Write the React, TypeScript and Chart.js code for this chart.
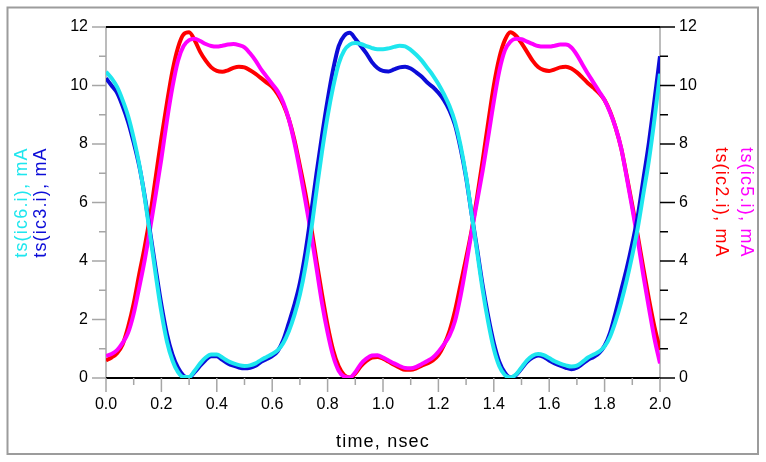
import React, { useEffect, useRef } from 'react';
import { Chart, registerables } from 'chart.js';

Chart.register(...registerables);

// Sample times, nsec
const TIME_NS = [
  0.0, 0.02, 0.04, 0.06, 0.08, 0.1, 0.12, 0.14, 0.16, 0.18,
  0.2, 0.22, 0.24, 0.26, 0.28, 0.3, 0.32, 0.34, 0.36, 0.38,
  0.4, 0.42, 0.44, 0.46, 0.48, 0.5, 0.52, 0.54, 0.56, 0.58,
  0.6, 0.62, 0.64, 0.66, 0.68, 0.7, 0.72, 0.74, 0.76, 0.78,
  0.8, 0.82, 0.84, 0.86, 0.88, 0.9, 0.92, 0.94, 0.96, 0.98,
  1.0, 1.02, 1.04, 1.06, 1.08, 1.1, 1.12, 1.14, 1.16, 1.18,
  1.2, 1.22, 1.24, 1.26, 1.28, 1.3, 1.32, 1.34, 1.36, 1.38,
  1.4, 1.42, 1.44, 1.46, 1.48, 1.5, 1.52, 1.54, 1.56, 1.58,
  1.6, 1.62, 1.64, 1.66, 1.68, 1.7, 1.72, 1.74, 1.76, 1.78,
  1.8, 1.82, 1.84, 1.86, 1.88, 1.9, 1.92, 1.94, 1.96, 1.98, 2.0,
];

// ts(ic3.i), mA
const IC3_MA = [
  10.25, 10.0, 9.75, 9.3, 8.75, 8.05, 7.25, 6.2, 4.95, 3.7,
  2.5, 1.5, 0.8, 0.35, 0.08, 0.02, 0.2, 0.42, 0.62, 0.74,
  0.74, 0.62, 0.5, 0.42, 0.36, 0.33, 0.35, 0.42, 0.55, 0.65,
  0.75, 0.92, 1.3, 1.88, 2.5, 3.25, 4.3, 5.6, 7.0, 8.3,
  9.5, 10.55, 11.35, 11.7, 11.8, 11.6, 11.35, 11.1, 10.8, 10.6,
  10.5, 10.48, 10.55, 10.62, 10.64, 10.58, 10.45, 10.3, 10.1, 9.95,
  9.75, 9.5, 9.15, 8.65, 7.85, 6.85, 5.6, 4.4, 3.15, 2.1,
  1.2, 0.55, 0.18, 0.02, 0.1, 0.32, 0.55, 0.7, 0.77, 0.72,
  0.6, 0.5, 0.42, 0.35, 0.3, 0.35, 0.48, 0.62, 0.72, 0.85,
  1.1, 1.55, 2.25, 3.0, 3.75, 4.6, 5.55, 6.8, 8.05, 9.5, 11.0,
];

// ts(ic6.i), mA
const IC6_MA = [
  10.47, 10.25, 9.95, 9.5, 8.95, 8.2, 7.3, 6.15, 4.85, 3.5,
  2.25, 1.25, 0.6, 0.2, 0.03, 0.03, 0.25, 0.5, 0.7, 0.8,
  0.8, 0.7, 0.58, 0.5, 0.44, 0.41, 0.43, 0.5, 0.62, 0.72,
  0.82, 0.95, 1.2, 1.6, 2.15, 2.85, 3.8, 5.0, 6.4, 7.75,
  8.95, 9.95, 10.75, 11.2, 11.4, 11.45, 11.42, 11.35, 11.28, 11.24,
  11.24, 11.27, 11.32, 11.36, 11.34, 11.22, 11.05, 10.85, 10.6, 10.35,
  10.05, 9.7, 9.3, 8.75, 7.95, 6.9, 5.6, 4.3, 3.0, 1.9,
  1.0, 0.4, 0.1, 0.02, 0.12, 0.36, 0.6, 0.76, 0.82, 0.78,
  0.68, 0.57, 0.49, 0.43, 0.39, 0.42, 0.55, 0.7, 0.8, 0.9,
  1.08, 1.42, 1.95, 2.6, 3.35, 4.2, 5.15, 6.3, 7.45, 8.85, 10.4,
];

// ts(ic2.i), mA
const IC2_MA = [
  0.6, 0.7, 0.85, 1.15, 1.75, 2.55, 3.55, 4.5, 5.6, 6.9,
  8.2, 9.4, 10.5, 11.3, 11.75, 11.82, 11.55, 11.15, 10.85, 10.62,
  10.5, 10.47, 10.52, 10.6, 10.64, 10.62, 10.52, 10.4, 10.25, 10.1,
  9.95, 9.7, 9.35, 8.85, 8.15, 7.25, 6.3, 5.2, 4.0, 2.85,
  1.8, 0.95, 0.4, 0.1, 0.02, 0.15, 0.4, 0.58, 0.7, 0.72,
  0.66, 0.56, 0.45, 0.35, 0.28, 0.28, 0.33, 0.42, 0.5, 0.6,
  0.78, 1.12, 1.6, 2.3, 3.2, 4.1, 5.05, 6.2, 7.45, 8.75,
  10.0, 10.95, 11.55, 11.82, 11.7, 11.45, 11.15, 10.85, 10.63, 10.53,
  10.5, 10.55, 10.62, 10.64, 10.58, 10.45, 10.27, 10.08, 9.92, 9.74,
  9.5, 9.1, 8.55, 7.85, 6.9, 5.9, 4.85, 3.75, 2.7, 1.75, 0.96,
];

// ts(ic5.i), mA
const IC5_MA = [
  0.75, 0.82, 0.95, 1.2, 1.55, 2.2, 3.1, 4.05, 5.15, 6.3,
  7.5, 8.8, 9.95, 10.85, 11.35, 11.55, 11.6, 11.52, 11.42, 11.35,
  11.33, 11.36, 11.4, 11.42, 11.38, 11.3, 11.1, 10.85, 10.55, 10.3,
  10.05, 9.8, 9.42, 8.85, 8.05, 7.1, 6.05, 4.95, 3.75, 2.55,
  1.55, 0.75, 0.25, 0.05, 0.02, 0.2, 0.48, 0.66, 0.77, 0.78,
  0.7, 0.6, 0.5, 0.41, 0.34, 0.33, 0.38, 0.48, 0.58, 0.7,
  0.9, 1.15, 1.45, 1.95, 2.8, 3.85, 5.0, 6.05, 7.1, 8.25,
  9.45, 10.5, 11.2, 11.5, 11.6, 11.58, 11.5, 11.42, 11.35, 11.33,
  11.33, 11.36, 11.4, 11.4, 11.3, 11.05, 10.72, 10.4, 10.1, 9.8,
  9.5, 9.08, 8.55, 7.85, 6.85, 5.8, 4.7, 3.5, 2.4, 1.35, 0.5,
];

// Axis ranges and tick spacing
const X_MIN = 0;
const X_MAX = 2;
const X_MAJOR_STEP = 0.2;
const X_MINOR_STEP = 0.1;
const Y_MIN = 0;
const Y_MAX = 12;
const Y_MAJOR_STEP = 2;
const Y_MINOR_STEP = 1;

const X_TITLE = 'time, nsec';

const CYAN = '#1ee6ee';
const BLUE = '#0c0cd8';
const RED = '#ff0000';
const MAGENTA = '#ff00ff';

const LEFT_TITLES = [
  { text: 'ts(ic6.i), mA', color: CYAN, x: 22 },
  { text: 'ts(ic3.i), mA', color: BLUE, x: 41 },
];
const RIGHT_TITLES = [
  { text: 'ts(ic2.i), mA', color: RED, x: 721 },
  { text: 'ts(ic5.i), mA', color: MAGENTA, x: 746 },
];

const FONT = "'Liberation Sans', Arial, Helvetica, sans-serif";
const AXIS_GRAY = '#a6a6a6';

const points = (ys: number[]) => TIME_NS.map((t, i) => ({ x: t, y: ys[i] }));

const decorPlugin = {
  id: 'decor',
  beforeDatasetsDraw(chart: any) {
    const { ctx, chartArea: a } = chart;
    ctx.save();
    ctx.lineCap = 'butt';
    // side axis lines
    ctx.strokeStyle = AXIS_GRAY;
    ctx.lineWidth = 1.5;
    ctx.beginPath();
    ctx.moveTo(a.left, a.top);
    ctx.lineTo(a.left, a.bottom);
    ctx.moveTo(a.right, a.top);
    ctx.lineTo(a.right, a.bottom);
    ctx.stroke();
    // top and bottom boundaries
    ctx.strokeStyle = '#000';
    ctx.lineWidth = 2;
    ctx.beginPath();
    ctx.moveTo(a.left, a.top);
    ctx.lineTo(a.right, a.top);
    ctx.moveTo(a.left, a.bottom);
    ctx.lineTo(a.right, a.bottom);
    ctx.stroke();
    ctx.restore();
  },
  afterDraw(chart: any) {
    const { ctx, chartArea: a, scales } = chart;
    const xs = scales.x;
    const yl = scales.y;
    const yr = scales.y2;
    ctx.save();

    // x ticks (downward, gray)
    ctx.strokeStyle = AXIS_GRAY;
    ctx.lineWidth = 1.5;
    ctx.beginPath();
    const nx = Math.round((X_MAX - X_MIN) / X_MINOR_STEP);
    const xRatio = Math.round(X_MAJOR_STEP / X_MINOR_STEP);
    for (let i = 0; i <= nx; i++) {
      const px = xs.getPixelForValue(X_MIN + i * X_MINOR_STEP);
      const major = i % xRatio === 0;
      ctx.moveTo(px, a.bottom);
      ctx.lineTo(px, a.bottom + (major ? 14 : 7));
    }
    ctx.stroke();

    // left ticks (gray)
    const ny = Math.round((Y_MAX - Y_MIN) / Y_MINOR_STEP);
    const yRatio = Math.round(Y_MAJOR_STEP / Y_MINOR_STEP);
    ctx.beginPath();
    for (let i = 0; i <= ny; i++) {
      const py = yl.getPixelForValue(Y_MIN + i * Y_MINOR_STEP);
      const major = i % yRatio === 0;
      ctx.moveTo(a.left, py);
      ctx.lineTo(a.left - (major ? 14 : 7), py);
    }
    ctx.stroke();

    // right ticks (black)
    ctx.strokeStyle = '#000';
    ctx.lineWidth = 1.5;
    ctx.beginPath();
    for (let i = 0; i <= ny; i++) {
      const py = yr.getPixelForValue(Y_MIN + i * Y_MINOR_STEP);
      const major = i % yRatio === 0;
      ctx.moveTo(a.right, py);
      ctx.lineTo(a.right + (major ? 15 : 8), py);
    }
    ctx.stroke();

    // axis titles
    const midY = (a.top + a.bottom) / 2;
    ctx.font = `18px ${FONT}`;
    (ctx as any).letterSpacing = '1.2px';
    ctx.textAlign = 'center';
    ctx.textBaseline = 'middle';
    for (const t of LEFT_TITLES) {
      ctx.save();
      ctx.translate(t.x, midY);
      ctx.rotate(-Math.PI / 2);
      ctx.fillStyle = t.color;
      ctx.fillText(t.text, 0, 0);
      ctx.restore();
    }
    for (const t of RIGHT_TITLES) {
      ctx.save();
      ctx.translate(t.x, midY);
      ctx.rotate(Math.PI / 2);
      ctx.fillStyle = t.color;
      ctx.fillText(t.text, 0, 0);
      ctx.restore();
    }
    ctx.fillStyle = '#000';
    ctx.fillText(X_TITLE, (a.left + a.right) / 2, 442);
    (ctx as any).letterSpacing = '0px';

    // outer frame
    ctx.strokeStyle = '#9c9c9c';
    ctx.lineWidth = 2;
    ctx.strokeRect(7.5, 7.5, 750.5, 446.5);
    ctx.restore();
  },
};

export default function App() {
  const canvasRef = useRef<HTMLCanvasElement | null>(null);

  useEffect(() => {
    const canvas = canvasRef.current;
    if (!canvas) return;
    const tickFont = { family: FONT, size: 16 };
    const hiddenTicks = {
      display: true,
      drawOnChartArea: false,
      drawTicks: true,
      tickLength: 14,
      tickColor: 'rgba(0,0,0,0)',
    };
    const line = (label: string, data: number[], color: string, axis: string, order: number) => ({
      label,
      data: points(data),
      borderColor: color,
      backgroundColor: color,
      borderWidth: 4,
      pointRadius: 0,
      fill: false,
      cubicInterpolationMode: 'monotone' as const,
      yAxisID: axis,
      order,
    });

    const chart = new Chart(canvas, {
      type: 'line',
      data: {
        datasets: [
          line('ts(ic6.i), mA', IC6_MA, CYAN, 'y', 0),
          line('ts(ic3.i), mA', IC3_MA, BLUE, 'y', 1),
          line('ts(ic5.i), mA', IC5_MA, MAGENTA, 'y2', 2),
          line('ts(ic2.i), mA', IC2_MA, RED, 'y2', 3),
        ],
      },
      options: {
        animation: false,
        responsive: false,
        devicePixelRatio: 1,
        layout: { padding: { top: 27, left: 0, right: 0, bottom: 0 } },
        plugins: { legend: { display: false }, tooltip: { enabled: false } },
        scales: {
          x: {
            type: 'linear',
            position: 'bottom',
            min: X_MIN,
            max: X_MAX,
            afterFit: (s: any) => {
              s.height = 84;
            },
            grid: hiddenTicks,
            border: { display: false },
            ticks: {
              stepSize: X_MAJOR_STEP,
              callback: (v: any) => Number(v).toFixed(1),
              color: '#000',
              font: tickFont,
              padding: 3,
              maxRotation: 0,
              autoSkip: false,
            },
          },
          y: {
            type: 'linear',
            position: 'left',
            min: Y_MIN,
            max: Y_MAX,
            afterFit: (s: any) => {
              s.width = 106;
            },
            grid: hiddenTicks,
            border: { display: false },
            ticks: { stepSize: Y_MAJOR_STEP, color: '#000', font: tickFont, padding: 4 },
          },
          y2: {
            type: 'linear',
            position: 'right',
            min: Y_MIN,
            max: Y_MAX,
            afterFit: (s: any) => {
              s.width = 106;
            },
            grid: hiddenTicks,
            border: { display: false },
            ticks: { stepSize: Y_MAJOR_STEP, color: '#000', font: tickFont, padding: 5 },
          },
        },
      },
      plugins: [decorPlugin],
    });
    return () => chart.destroy();
  }, []);

  return (
    <canvas
      ref={canvasRef}
      width={766}
      height={462}
      style={{ position: 'absolute', left: 0, top: 0, background: '#fff' }}
    />
  );
}
